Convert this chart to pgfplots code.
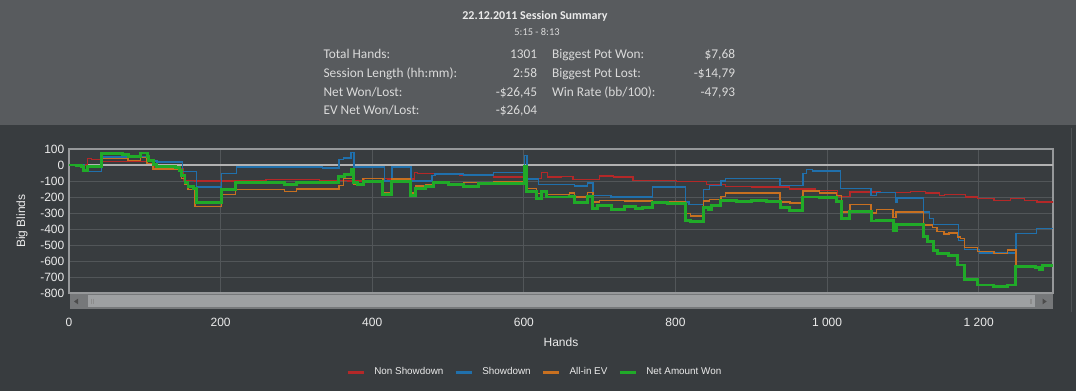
\documentclass[border=0pt]{standalone}
\usepackage{pgfplots}
\usepackage{pgfplotstable}
\pgfplotsset{compat=1.18}
\usepackage{fontspec}
\setmainfont{Liberation Sans}
\newfontfamily\calfont{Carlito}
\definecolor{toppanel}{RGB}{88,91,94}
\definecolor{botpanel}{RGB}{56,60,63}
\definecolor{gridc}{RGB}{82,86,89}
\definecolor{framec}{RGB}{150,152,154}
\definecolor{zeroc}{RGB}{178,178,178}
\definecolor{txt}{RGB}{235,235,235}
\definecolor{sumtxt}{RGB}{218,218,218}
\definecolor{cred}{RGB}{180,40,40}
\definecolor{cblue}{RGB}{32,112,172}
\definecolor{corange}{RGB}{200,112,32}
\definecolor{cgreen}{RGB}{32,170,40}
\definecolor{sbtrack}{RGB}{118,120,122}
\definecolor{sbthumb}{RGB}{158,160,162}
\definecolor{edgec}{RGB}{78,82,85}

\pgfplotstableread{
x y
0 0
24 40
30 33
42 20
113 -25
151 -95
166 -100
220 -98
260 -90
330 -98
367 -101
390 -85
420 -87
456 -47
460 -55
485 -58
515 -65
560 -75
600 -85
623 -48
631 -75
650 -72
665 -92
700 -69
718 -75
744 -96
801 -104
841 -120
866 -135
900 -137
950 -149
985 -160
1014 -198
1030 -168
1070 -172
1110 -164
1130 -175
1148 -189
1155 -183
1183 -200
1198 -210
1220 -220
1242 -210
1260 -220
1277 -231
1298 -237
}\nonshowdown

\pgfplotstableread{
x y
0 0
20 -40
43 50
105 25
116 19
150 -40
168 -137
201 -54
221 -12
334 -18
356 33
362 43
372 79
376 -12
416 -101
426 -12
451 -101
479 -64
483 -56
520 -62
560 -48
600 -46
601 58
604 -87
619 -122
667 -132
684 -112
691 -190
715 -199
770 -137
813 -232
818 -248
837 -153
845 -128
860 -101
866 -85
938 -127
968 -54
973 -29
981 -37
1018 -146
1058 -190
1065 -173
1090 -231
1092 -206
1127 -293
1135 -335
1140 -372
1173 -470
1181 -528
1201 -549
1249 -428
1276 -397
1298 -397
}\showdown

\pgfplotstableread{
x y
0 0
10 -5
19 -33
24 -8
43 40
78 29
94 46
103 8
111 -25
140 -30
146 -37
148 -85
153 -122
157 -153
166 -260
201 -183
220 -155
284 -164
300 -149
356 -127
362 -85
375 -122
388 -85
414 -172
425 -87
450 -174
457 -132
470 -120
481 -112
500 -118
520 -108
560 -106
601 -20
603 -148
617 -180
623 -170
630 -184
660 -174
667 -199
684 -170
691 -232
700 -220
733 -226
770 -228
813 -305
820 -318
837 -226
845 -215
860 -195
866 -175
938 -231
951 -237
968 -162
990 -175
1012 -190
1019 -293
1030 -248
1058 -300
1065 -277
1087 -329
1091 -293
1127 -376
1139 -390
1145 -417
1154 -432
1161 -424
1172 -449
1176 -459
1181 -515
1198 -542
1220 -552
1238 -532
1249 -632
1275 -642
1280 -656
1284 -630
1298 -630
}\allinev

\pgfplotstableread{
x y
0 0
10 -5
16 -12
19 -37
24 -8
32 -12
43 71
70 67
78 56
94 75
103 56
105 29
111 5
116 -8
128 -10
140 -17
146 -35
148 -64
153 -112
157 -132
164 -148
168 -235
201 -155
220 -112
284 -122
300 -112
356 -70
363 -60
373 -25
375 -112
380 -122
388 -101
414 -184
425 -101
450 -190
457 -147
470 -133
481 -112
500 -121
520 -133
540 -118
560 -116
601 -8
603 -165
617 -210
623 -168
630 -200
660 -195
667 -232
684 -195
691 -273
697 -255
715 -277
733 -260
747 -273
756 -267
770 -236
790 -242
813 -344
820 -356
837 -267
843 -277
848 -252
860 -219
880 -226
900 -222
920 -231
938 -267
951 -283
968 -200
990 -205
1012 -226
1019 -335
1030 -293
1058 -350
1065 -345
1087 -412
1091 -370
1127 -449
1133 -480
1140 -532
1146 -552
1160 -563
1172 -625
1181 -718
1198 -750
1220 -760
1238 -750
1249 -635
1275 -642
1280 -656
1284 -630
1298 -630
}\netwon

\begin{document}
\begin{tikzpicture}
\useasboundingbox (0pt,0pt) rectangle (807pt,-293.25pt);
\fill[toppanel] (0pt,0pt) rectangle (807pt,-93.75pt);
\fill[botpanel] (0pt,-93.75pt) rectangle (807pt,-293.25pt);
\draw[edgec, line width=1pt] (803.5pt,-96pt) -- (803.5pt,-234pt);
% summary
\node[anchor=base, inner sep=0pt, text=txt, font=\calfont\bfseries\fontsize{9}{10}\selectfont] at (401.25pt,-15pt) {22.12.2011 Session Summary};
\node[anchor=base, inner sep=0pt, text=sumtxt, font=\calfont\fontsize{7.8}{9}\selectfont] at (402.75pt,-27pt) {5:15 - 8:13};
\begin{scope}[every node/.style={inner sep=0pt, text=sumtxt, font=\calfont\fontsize{10}{12}\selectfont}]
\node[anchor=base west] at (242.5pt,-44.25pt) {Total Hands:};
\node[anchor=base west] at (242.5pt,-58.1pt) {Session Length (hh:mm):};
\node[anchor=base west] at (242.5pt,-72.4pt) {Net Won/Lost:};
\node[anchor=base west] at (242.5pt,-86.25pt) {EV Net Won/Lost:};
\node[anchor=base east] at (403pt,-44.25pt) {1301};
\node[anchor=base east] at (403pt,-58.1pt) {2:58};
\node[anchor=base east] at (403pt,-72.4pt) {-\$26,45};
\node[anchor=base east] at (403pt,-86.25pt) {-\$26,04};
\node[anchor=base west] at (413.8pt,-44.25pt) {Biggest Pot Won:};
\node[anchor=base west] at (413.8pt,-58.1pt) {Biggest Pot Lost:};
\node[anchor=base west] at (413.8pt,-72.4pt) {Win Rate (bb/100):};
\node[anchor=base east] at (551.5pt,-44.25pt) {\$7,68};
\node[anchor=base east] at (551.5pt,-58.1pt) {-\$14,79};
\node[anchor=base east] at (551.5pt,-72.4pt) {-47,93};
\end{scope}
% scrollbar
\fill[sbtrack] (52.5pt,-220.5pt) rectangle (789.75pt,-231.75pt);
\fill[sbthumb] (66pt,-221.5pt) rectangle (776pt,-230.25pt);
\fill[black!70] (55.5pt,-226.1pt) -- (58.5pt,-224pt) -- (58.5pt,-228.2pt) -- cycle;
\fill[black!70] (785pt,-226.1pt) -- (782pt,-224pt) -- (782pt,-228.2pt) -- cycle;
\draw[black!45, line width=0.4pt] (68.5pt,-224pt) -- (68.5pt,-228.2pt) (69.8pt,-224pt) -- (69.8pt,-228.2pt);
\draw[black!45, line width=0.4pt] (772.5pt,-224pt) -- (772.5pt,-228.2pt) (773.8pt,-224pt) -- (773.8pt,-228.2pt);
\begin{axis}[
  scale only axis, width=738pt, height=108pt,
  at={(51.75pt,-219.75pt)}, anchor=south west,
  xmin=0, xmax=1298, ymin=-800, ymax=100,
  const plot,
  axis line style={framec, line width=0.9pt},
  xtick={0,200,...,1200},
  xticklabels={0,200,400,600,800,1 000,1 200},
  ytick={-800,-700,...,100},
  yticklabels={-800,-700,-600,-500,-400,-300,-200,-100,0,100},
  tick style={draw=none},
  grid=major, grid style={gridc, line width=0.7pt},
  extra y ticks={0}, extra y tick labels={},
  extra y tick style={grid=major, grid style={zeroc, line width=1.6pt}},
  ticklabel style={font=\fontsize{9}{10}\selectfont, text=txt},
  xticklabel style={anchor=center, yshift=-21.75pt},
  xlabel={Hands}, ylabel={Big Blinds},
  label style={font=\fontsize{9}{10}\selectfont, text=txt},
  xlabel style={at={(axis description cs:0.5,-0.340)}, anchor=center},
  ylabel style={at={(axis description cs:-0.0478,0.5)}, anchor=center},
  legend style={at={(axis description cs:0.4736,-0.549)}, anchor=center,
    draw=none, fill=none, text=txt, font=\fontsize{7.4}{9}\selectfont,
    /tikz/every odd column/.append style={column sep=5pt},
    /tikz/every even column/.append style={column sep=6pt}},
  legend columns=4,
  legend image code/.code={\draw[#1, line width=2.2pt] (0pt,0pt) -- (12pt,0pt);},
]
\addplot[cred, line width=1pt] table[x=x,y=y] {\nonshowdown};
\addlegendentry{Non Showdown}
\addplot[cblue, line width=1pt] table[x=x,y=y] {\showdown};
\addlegendentry{Showdown}
\addplot[corange, line width=1pt] table[x=x,y=y] {\allinev};
\addlegendentry{All-in EV}
\addplot[cgreen, line width=2.2pt] table[x=x,y=y] {\netwon};
\addlegendentry{Net Amount Won}
\end{axis}
\end{tikzpicture}
\end{document}
